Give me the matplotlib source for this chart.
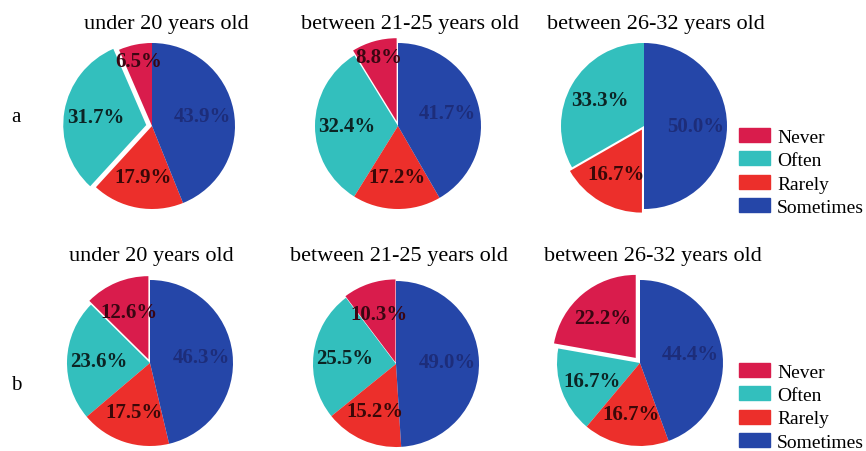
import numpy as np
import matplotlib.pyplot as plt

categories = ['Never', 'Often', 'Rarely', 'Sometimes']
colors = ['#d91c4c', '#33bfbd', '#ec2f2b', '#2546a8']
label_colors = ['#3a0612', '#0c2424', '#3a0808', '#1d2d7a']

titles = ['under 20 years old', 'between 21-25 years old', 'between 26-32 years old']

row_a = [
    [6.5, 31.7, 17.9, 43.9],
    [8.8, 32.4, 17.2, 41.7],
    [0.0, 33.3, 16.7, 50.0],
]
row_b = [
    [12.6, 23.6, 17.5, 46.3],
    [10.3, 25.5, 15.2, 49.0],
    [22.2, 16.7, 16.7, 44.4],
]

explode_a = [[0, 0.07, 0, 0], [0.06, 0, 0, 0], [0, 0, 0.05, 0]]
explode_b = [[0.05, 0, 0, 0], [0.02, 0, 0, 0], [0.08, 0, 0, 0]]

W, H = 866, 452
fig = plt.figure(figsize=(W / 100, H / 100), dpi=100)
serif = 'Liberation Serif'

r = 83
lim = 1.15
size = 2 * r * lim

centers_a = [(152, 127), (398, 127), (644, 127)]
centers_b = [(150, 364), (396, 365), (640, 364)]


def draw_pie(cx, cy, vals, expl):
    ax = fig.add_axes([(cx - size / 2) / W, 1 - (cy + size / 2) / H, size / W, size / H])
    wedges, _ = ax.pie(vals, colors=colors, startangle=90, explode=expl,
                       wedgeprops=dict(linewidth=0))
    for w, v, lc in zip(wedges, vals, label_colors):
        if v <= 0:
            continue
        ang = np.deg2rad((w.theta1 + w.theta2) / 2)
        x0, y0 = w.center
        d = 0.62 if v > 10 else 0.8
        ax.text(x0 + d * np.cos(ang), y0 + d * np.sin(ang), f'{v:.1f}%',
                ha='center', va='center', fontsize=15, fontweight='bold',
                family=serif, color=lc)
    ax.set_xlim(-lim, lim)
    ax.set_ylim(-lim, lim)
    ax.set_aspect('equal')
    ax.axis('off')
    return wedges


for i in range(3):
    draw_pie(*centers_a[i], row_a[i], explode_a[i])
    draw_pie(*centers_b[i], row_b[i], explode_b[i])

title_a = [(166, 24), (410, 24), (656, 24)]
title_b = [(151, 257), (399, 257), (653, 257)]
for t, (x, y) in zip(titles, title_a):
    fig.text(x / W, 1 - y / H, t, ha='center', va='center', fontsize=16, family=serif)
for t, (x, y) in zip(titles, title_b):
    fig.text(x / W, 1 - y / H, t, ha='center', va='center', fontsize=16, family=serif)

fig.text(16 / W, 1 - 118 / H, 'a', ha='center', va='center', fontsize=15, family=serif)
fig.text(16 / W, 1 - 386 / H, 'b', ha='center', va='center', fontsize=15, family=serif)

for top in (129, 364):
    handles = [plt.Rectangle((0, 0), 1, 1, color=c) for c in colors]
    fig.legend(handles, categories, loc='upper left',
               bbox_to_anchor=(739 / W, 1 - top / H), frameon=False,
               prop={'family': serif, 'size': 14}, handlelength=1.6,
               handleheight=0.7, handletextpad=0.35, labelspacing=0.3,
               borderaxespad=0, borderpad=0)

fig.savefig('out.png', dpi=100)
